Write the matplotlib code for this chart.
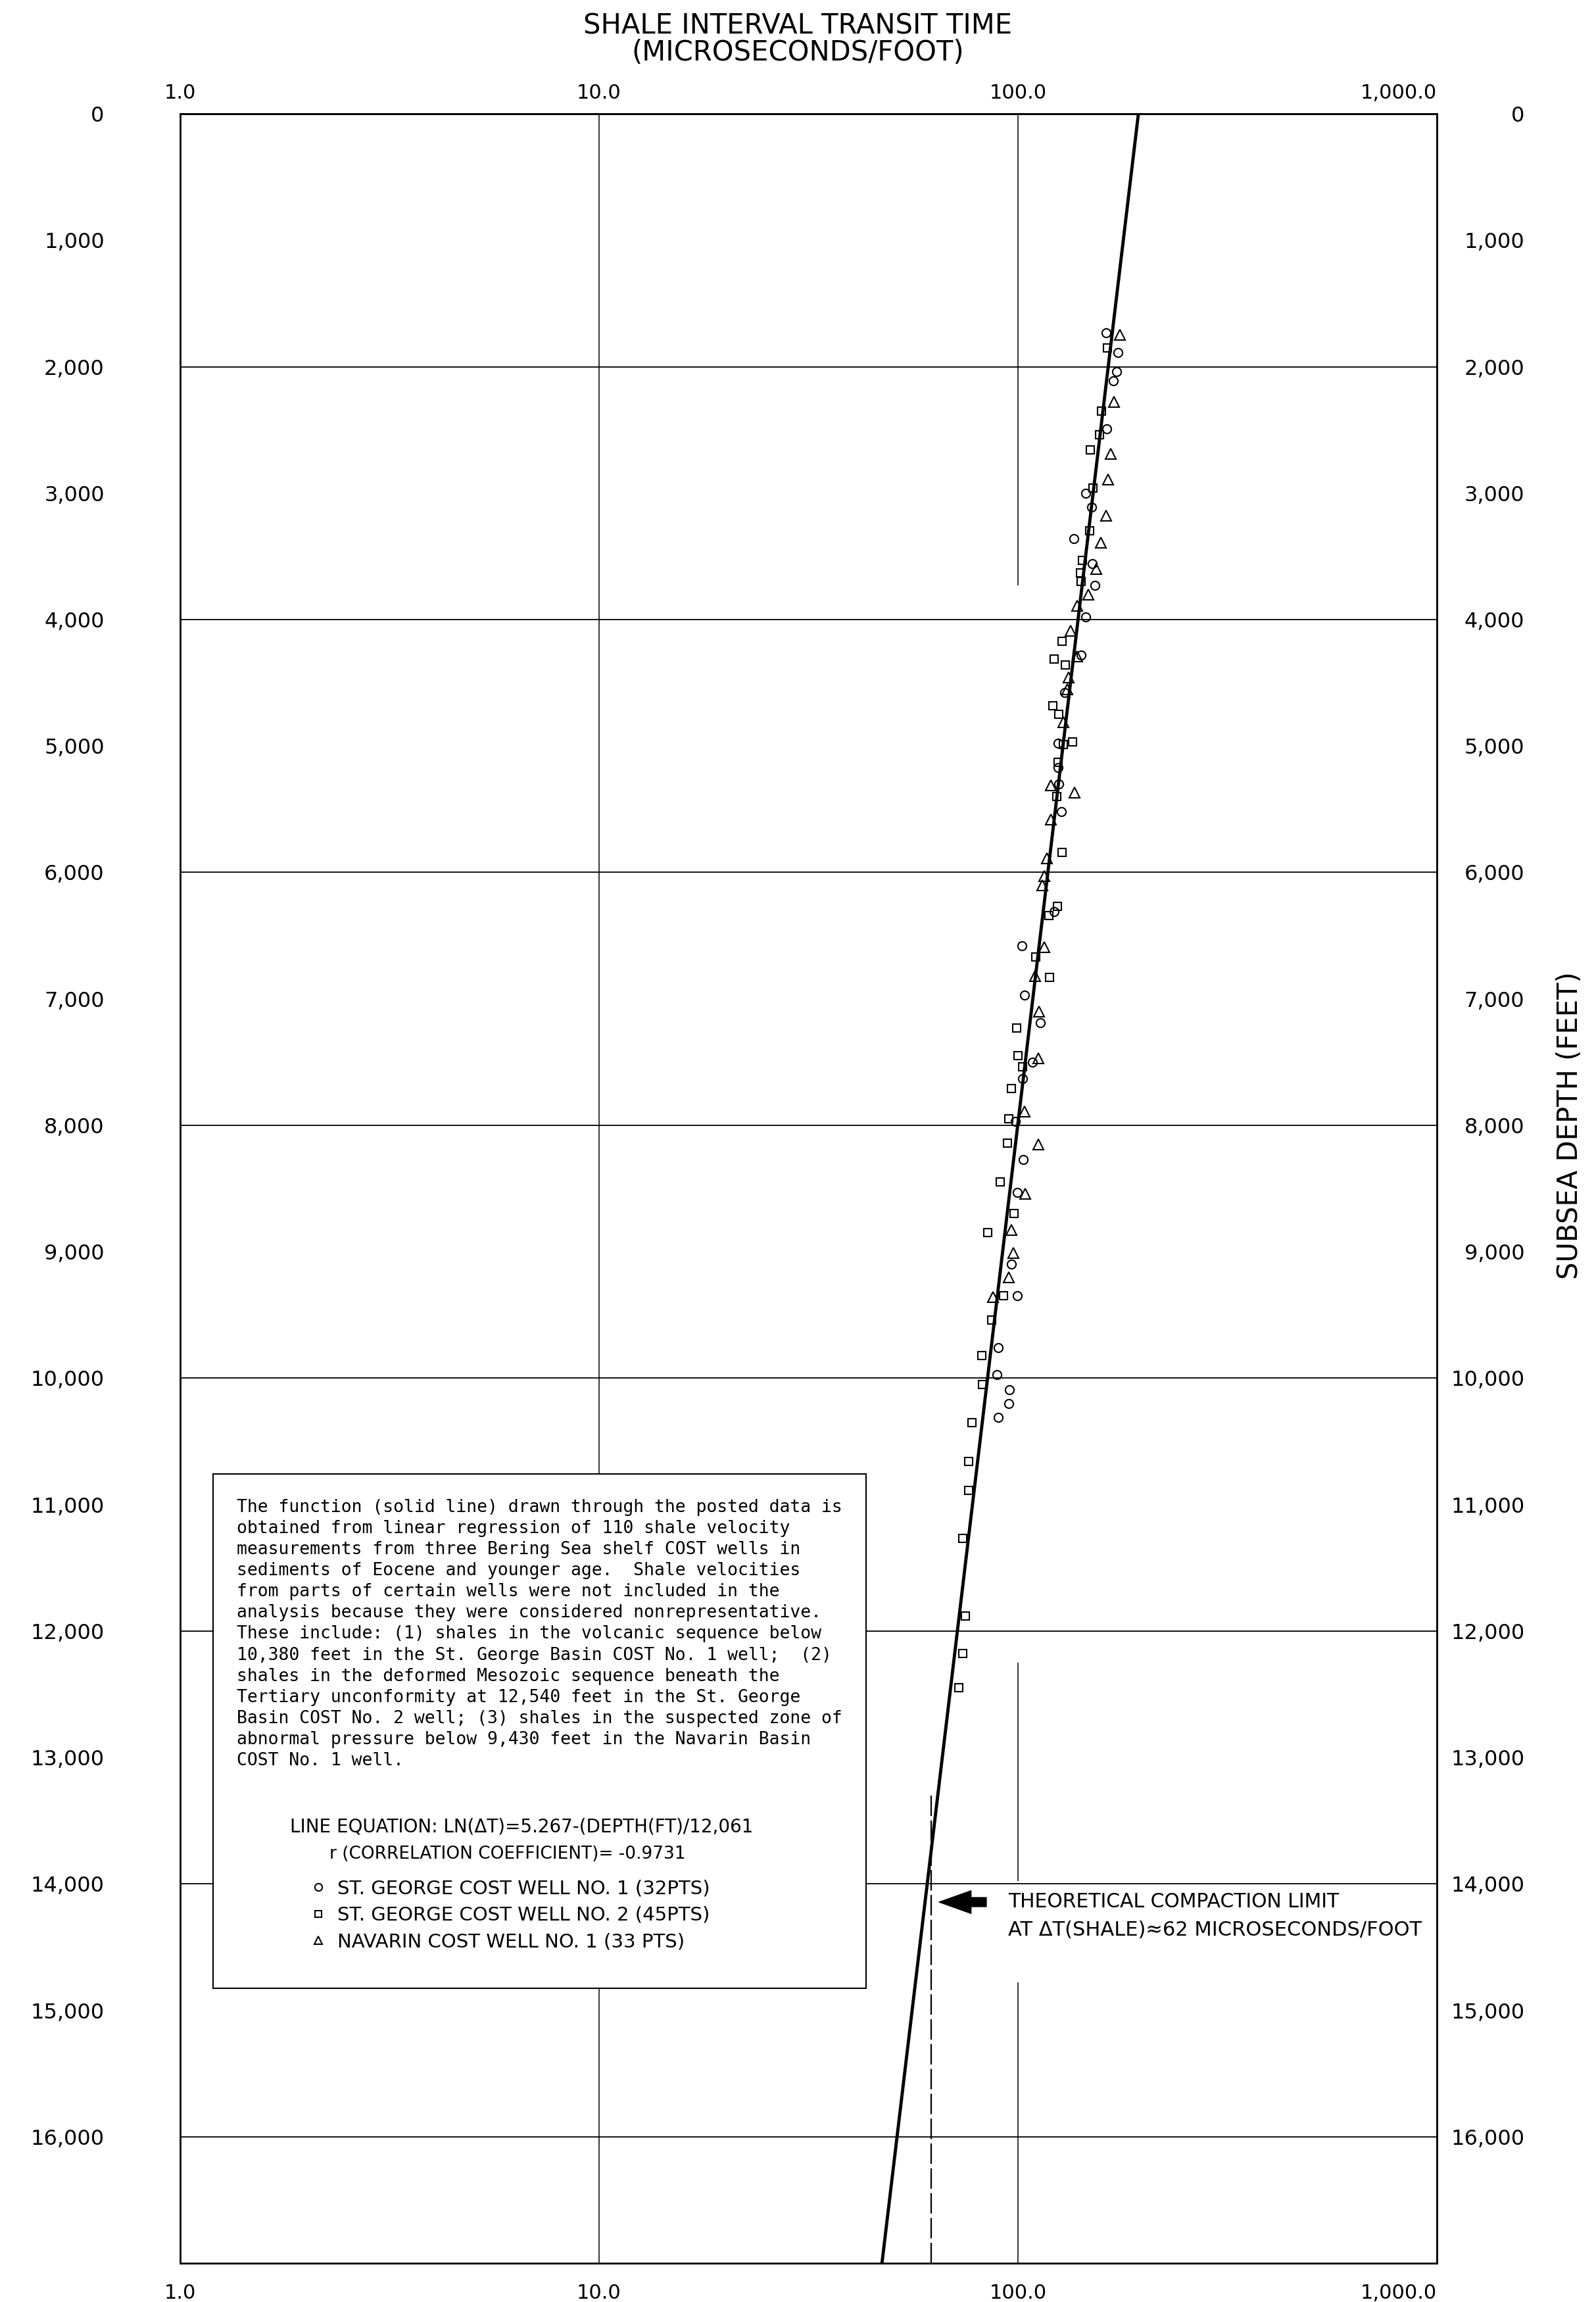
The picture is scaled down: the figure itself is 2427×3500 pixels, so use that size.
import numpy as np
import matplotlib
matplotlib.use("Agg")
import matplotlib.pyplot as plt
from matplotlib.patches import Rectangle
from matplotlib.ticker import NullLocator

# ---------------------------------------------------------------------------
# Shale interval transit time (microseconds/foot) versus subsea depth (feet)
# ---------------------------------------------------------------------------
# St. George Basin COST No. 1 well
george1_depth = [1730, 1890, 2040, 2110, 2490, 3000, 3110, 3360, 3560, 3730,
                 3980, 4280, 4580, 4980, 5170, 5300, 5520, 6310, 6580, 6970,
                 7190, 7500, 7630, 7970, 8270, 8530, 9100, 9350, 9760, 9970,
                 10090, 10200, 10310]
george1_dt = [162.1, 173.5, 171.8, 169.1, 162.9, 145.3, 149.9, 136.1, 150.5, 152.6,
              145.1, 141.3, 129.4, 124.5, 124.8, 125.1, 126.8, 121.8, 102.1, 103.8,
              112.9, 108.4, 102.7, 98.7, 102.9, 99.5, 96.6, 99.5, 89.6, 89.1,
              95.4, 95.2, 89.8]

# St. George Basin COST No. 2 well
george2_depth = [1850, 2350, 2540, 2660, 2960, 3300, 3530, 3630, 3700, 4170,
                 4310, 4360, 4680, 4750, 4970, 4990, 5130, 5400, 5840, 6270,
                 6340, 6670, 6830, 7230, 7450, 7540, 7710, 7950, 8140, 8450,
                 8700, 8850, 9350, 9540, 9820, 10050, 10350, 10660, 10890, 11270,
                 11880, 12180, 12450]
george2_dt = [163.3, 158.3, 156.4, 149.0, 150.8, 148.5, 142.5, 141.1, 141.7, 127.4,
              121.8, 129.8, 121.1, 125.1, 135.0, 128.2, 124.8, 123.7, 127.4, 124.3,
              118.5, 110.2, 119.0, 99.3, 99.9, 102.7, 96.3, 95.2, 94.4, 90.7,
              97.7, 84.7, 92.4, 86.4, 82.1, 82.2, 77.7, 76.2, 76.3, 73.7,
              75.0, 73.7, 72.1]

# Navarin Basin COST No. 1 well
navarin_depth = [1750, 2280, 2690, 2890, 3180, 3390, 3600, 3800, 3890, 4090,
                 4290, 4460, 4550, 4810, 5310, 5370, 5580, 5890, 6030, 6100,
                 6590, 6820, 7100, 7470, 7890, 8150, 8540, 8830, 9010, 9200,
                 9360]
navarin_dt = [175.3, 169.3, 166.7, 163.9, 162.3, 157.5, 153.7, 147.4, 138.6, 133.4,
              138.3, 132.2, 131.0, 128.2, 119.7, 136.6, 119.7, 117.1, 115.7, 114.4,
              115.4, 110.0, 112.4, 112.0, 103.6, 112.0, 104.2, 96.3, 97.5, 95.2,
              87.2]

well_labels = ["ST. GEORGE COST WELL NO. 1 (32PTS)",
               "ST. GEORGE COST WELL NO. 2 (45PTS)",
               "NAVARIN COST WELL NO. 1 (33 PTS)"]

# Regression: ln(dT) = INTERCEPT - depth / DEPTH_SCALE
INTERCEPT = 5.267
DEPTH_SCALE = 12061
CORRELATION = -0.9731
COMPACTION_LIMIT = 62          # microseconds/foot
COMPACTION_TOP = 13300         # depth where the limit line starts

x_ticks = [1, 10, 100, 1000]
x_tick_labels = ["1.0", "10.0", "100.0", "1,000.0"]
depth_ticks = list(range(0, 17000, 1000))
depth_tick_labels = [f"{d:,}" for d in depth_ticks]
depth_grid = list(range(2000, 17000, 2000))
DEPTH_MAX = 17000

# ---------------------------------------------------------------------------
fig = plt.figure(figsize=(24.27, 35.0), dpi=100)
ax = fig.add_axes([0.1129, 0.01686, 0.7874, 0.9337])
ax.set_xscale("log")
ax.set_xlim(1, 1000)
ax.set_ylim(DEPTH_MAX, 0)

for sp in ax.spines.values():
    sp.set_linewidth(2.0)

# grid
ax.hlines(depth_grid, 1, 1000, colors="black", lw=1.3, zorder=1)
ax.vlines(10, 0, DEPTH_MAX, colors="black", lw=1.1, zorder=1)
for top, bottom in [(0, 3730), (12250, 13980), (14780, DEPTH_MAX)]:
    ax.vlines(100, top, bottom, colors="black", lw=1.1, zorder=1)


def style_x(axis_obj, pad):
    axis_obj.xaxis.set_minor_locator(NullLocator())
    axis_obj.set_xticks(x_ticks)
    axis_obj.set_xticklabels(x_tick_labels)
    axis_obj.tick_params(axis="x", which="both", length=0, labelsize=22, pad=pad)
    labels = axis_obj.get_xticklabels()
    labels[-1].set_horizontalalignment("right")


# bottom axis labels
style_x(ax, 22)
# top axis labels
top_ax = ax.secondary_xaxis("top")
style_x(top_ax, 12)
top_ax.spines["top"].set_linewidth(2.0)

# depth labels, left and right
ax.set_yticks(depth_ticks)
ax.set_yticklabels(depth_tick_labels)
ax.tick_params(axis="y", which="both", length=0, labelsize=23, pad=83)
right_ax = ax.secondary_yaxis("right")
right_ax.set_yticks(depth_ticks)
right_ax.set_yticklabels(depth_tick_labels)
right_ax.tick_params(axis="y", which="both", length=0, labelsize=23, pad=96)
right_ax.spines["right"].set_linewidth(2.0)
for lab in right_ax.get_yticklabels():
    lab.set_horizontalalignment("right")

# regression line and compaction limit
line_depth = np.array([0, DEPTH_MAX])
line_dt = np.exp(INTERCEPT - line_depth / DEPTH_SCALE)
ax.plot(line_dt, line_depth, color="black", lw=3.5, zorder=3)
ax.vlines(COMPACTION_LIMIT, COMPACTION_TOP, DEPTH_MAX, colors="black",
          lw=1.6, linestyles=[(0, (14, 3))], zorder=2)

# well data
mk = dict(ls="none", mfc="none", mec="black", mew=1.5, zorder=4)
h1, = ax.plot(george1_dt, george1_depth, marker="o", ms=9.5, **mk)
h2, = ax.plot(george2_dt, george2_depth, marker="s", ms=9, **mk)
h3, = ax.plot(navarin_dt, navarin_depth, marker="^", ms=11, **mk)

# explanation box
ax.add_patch(Rectangle((0.0262, 0.1279), 0.5196, 0.2393, transform=ax.transAxes,
                       facecolor="white", edgecolor="black", lw=1.5, zorder=5))
para = [
    "The function (solid line) drawn through the posted data is",
    "obtained from linear regression of 110 shale velocity",
    "measurements from three Bering Sea shelf COST wells in",
    "sediments of Eocene and younger age.  Shale velocities",
    "from parts of certain wells were not included in the",
    "analysis because they were considered nonrepresentative.",
    "These include: (1) shales in the volcanic sequence below",
    "10,380 feet in the St. George Basin COST No. 1 well;  (2)",
    "shales in the deformed Mesozoic sequence beneath the",
    "Tertiary unconformity at 12,540 feet in the St. George",
    "Basin COST No. 2 well; (3) shales in the suspected zone of",
    "abnormal pressure below 9,430 feet in the Navarin Basin",
    "COST No. 1 well.",
]
for i, line in enumerate(para):
    ax.text(0.0450, 0.3495 - i * 0.009823, line, transform=ax.transAxes,
            family="DejaVu Sans Mono", fontsize=19, ha="left", va="baseline",
            zorder=6)

ax.text(0.0874, 0.2029,
        f"LINE EQUATION: LN(\u0394T)={INTERCEPT}-(DEPTH(FT)/{DEPTH_SCALE:,}",
        transform=ax.transAxes, fontsize=20, ha="left", va="center", zorder=6)
ax.text(0.1188, 0.1903, f"r (CORRELATION COEFFICIENT)= {CORRELATION}",
        transform=ax.transAxes, fontsize=19, ha="left", va="center", zorder=6)

leg = ax.legend([h1, h2, h3], well_labels, loc="upper left",
                bbox_to_anchor=(0.1036, 0.1785), borderpad=0, borderaxespad=0,
                handlelength=0.8, handletextpad=0.6, labelspacing=0.42,
                frameon=False, fontsize=21, markerscale=0.85)
leg.set_zorder(7)

# compaction limit annotation
ax.annotate("", xy=(0.6039, 0.1680), xytext=(0.6415, 0.1680),
            xycoords="axes fraction", textcoords="axes fraction",
            arrowprops=dict(arrowstyle="simple,head_length=1.4,head_width=1.0,tail_width=0.4",
                            fc="black", ec="black", shrinkA=0, shrinkB=0,
                            mutation_scale=25), zorder=6)
ax.text(0.6588, 0.1680, "THEORETICAL COMPACTION LIMIT", transform=ax.transAxes,
        fontsize=21.5, ha="left", va="center", zorder=6)
ax.text(0.6588, 0.1551, f"AT \u0394T(SHALE)\u2248{COMPACTION_LIMIT} MICROSECONDS/FOOT",
        transform=ax.transAxes, fontsize=22, ha="left", va="center", zorder=6)

# titles
fig.text(0.5, 1 - 40 / 3500, "SHALE INTERVAL TRANSIT TIME", ha="center",
         va="center", fontsize=30)
fig.text(0.5, 1 - 80 / 3500, "(MICROSECONDS/FOOT)", ha="center",
         va="center", fontsize=30)
ax.text(1.1057, 0.5294, "SUBSEA DEPTH (FEET)", transform=ax.transAxes,
        rotation=90, ha="center", va="center", fontsize=30)

fig.savefig("out.png", dpi=100)
